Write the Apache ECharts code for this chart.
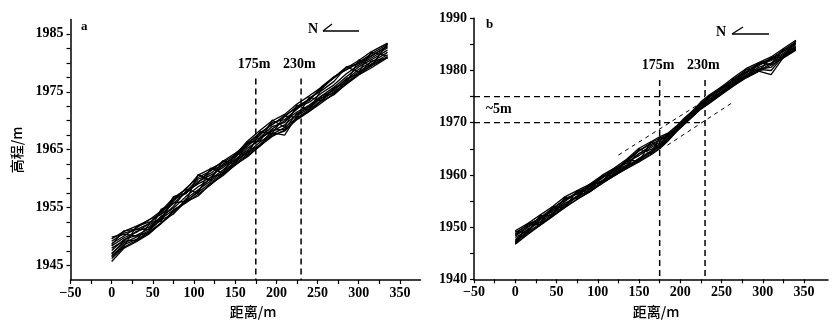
<!DOCTYPE html>
<html><head><meta charset="utf-8">
<script src="https://cdn.jsdelivr.net/npm/echarts@6/dist/echarts.min.js"></script>
<style>html,body{margin:0;padding:0;background:#fff}#c{width:834px;height:322px}</style>
</head><body><div id="c"></div>
<script>
// ---------- Panel a data ----------
const aDist = [0,15,30,45,60,75,90,105,120,135,150,165,180,195,210,225,240,255,270,285,300,315,335];
const aProfile1 = [1949.6,1950.9,1951.8,1952.8,1954.4,1956.7,1958.1,1960.6,1961.7,1962.8,1964.1,1966.5,1968.3,1970.0,1971.1,1972.9,1974.3,1975.8,1977.4,1979.1,1980.4,1981.9,1983.4];
const aProfile2 = [1949.2,1950.6,1951.2,1952.2,1954.3,1956.1,1958.3,1960.2,1961.3,1963.0,1964.4,1966.0,1967.8,1969.4,1970.7,1972.5,1973.7,1975.6,1977.6,1978.8,1980.1,1981.5,1983.2];
const aProfile3 = [1948.8,1950.1,1951.5,1952.9,1953.8,1955.7,1957.7,1959.9,1960.9,1962.5,1963.8,1965.6,1967.5,1969.7,1970.2,1972.0,1973.9,1975.2,1976.8,1979.3,1979.8,1981.1,1983.0];
const aProfile4 = [1948.4,1949.8,1950.7,1952.2,1954.0,1956.4,1957.4,1959.5,1960.6,1961.9,1963.6,1965.9,1967.1,1969.0,1969.7,1972.2,1973.2,1974.8,1976.2,1978.1,1979.6,1980.8,1982.6];
const aProfile5 = [1948.0,1949.3,1950.9,1951.6,1953.3,1955.2,1957.8,1959.1,1960.2,1962.3,1963.2,1965.3,1966.7,1968.6,1970.0,1971.5,1972.7,1974.3,1975.8,1977.6,1979.3,1980.5,1982.2];
const aProfile6 = [1947.6,1949.5,1950.2,1951.3,1953.5,1954.9,1956.9,1958.6,1959.9,1961.5,1963.3,1964.9,1967.0,1968.2,1969.3,1971.1,1972.5,1973.9,1975.5,1977.1,1978.9,1980.1,1981.8];
const aProfile7 = [1947.1,1948.9,1949.9,1951.0,1952.9,1953.9,1956.5,1958.1,1959.6,1961.2,1962.9,1964.5,1966.3,1967.9,1967.5,1970.9,1972.1,1974.0,1974.8,1976.9,1978.5,1979.8,1981.4];
const aProfile8 = [1946.7,1948.6,1949.5,1950.8,1952.4,1954.3,1956.2,1957.6,1959.3,1960.9,1962.6,1964.2,1965.9,1967.7,1968.8,1970.5,1971.9,1973.6,1975.0,1976.6,1978.2,1979.6,1981.1];
const aProfile9 = [1946.2,1948.2,1949.3,1950.6,1952.2,1954.5,1955.8,1957.3,1958.9,1960.7,1962.3,1964.0,1965.6,1967.5,1968.2,1970.3,1971.7,1973.4,1974.5,1976.4,1978.0,1979.4,1981.0];
const aProfile10 = [1945.7,1948.0,1949.1,1950.4,1952.3,1954.0,1956.0,1957.0,1959.1,1960.5,1962.4,1963.8,1965.7,1967.3,1968.4,1970.2,1971.6,1973.1,1974.7,1976.3,1977.9,1979.1,1980.9];
const aProfile11 = [1949.9,1950.4,1950.1,1950.7,1954.7,1955.8,1956.1,1960.7,1959.7,1963.1,1962.5,1966.3,1966.4,1970.1,1968.9,1972.7,1971.8,1975.5,1977.5,1979.3,1978.4,1981.8,1981.2];
const aProfile12 = [1946.5,1948.4,1951.7,1952.5,1952.6,1956.5,1958.2,1957.5,1961.8,1961.0,1964.3,1964.1,1968.1,1967.8,1970.8,1970.6,1974.1,1973.4,1975.7,1976.5,1980.5,1979.4,1983.3];
const aProfile13 = [1948.6,1951.0,1951.3,1951.2,1953.0,1956.9,1957.5,1959.3,1961.5,1962.2,1963.9,1966.2,1967.9,1969.3,1970.9,1972.3,1973.5,1975.9,1977.6,1978.8,1980.0,1981.2,1982.8];
const aProfile14 = [1947.0,1949.2,1949.4,1952.0,1953.1,1954.6,1955.9,1957.9,1960.2,1960.8,1963.0,1964.7,1965.7,1968.4,1968.5,1971.3,1972.3,1974.3,1975.2,1977.3,1978.1,1980.3,1980.8];
const aGuideX = [175, 230];
const aGuideTop = 1977.3;
const aGuideLabelY = 1979.8;

// ---------- Panel b data ----------
const bDist = [0,15,30,45,60,75,90,105,120,135,150,165,175,185,195,205,215,225,235,250,265,280,295,310,325,340];
const bProfile1 = [1949.3,1950.7,1952.3,1953.9,1955.8,1957.0,1958.2,1959.9,1961.3,1963.0,1965.1,1966.4,1967.3,1968.0,1969.3,1970.9,1972.3,1974.0,1975.3,1976.9,1978.7,1980.4,1981.5,1982.6,1984.2,1985.8];
const bProfile2 = [1949.0,1950.3,1951.8,1953.6,1955.1,1956.7,1957.9,1959.7,1961.0,1962.6,1964.6,1966.2,1967.0,1967.8,1969.1,1970.7,1972.2,1973.7,1975.1,1976.6,1978.4,1980.1,1981.3,1982.2,1983.9,1985.5];
const bProfile3 = [1948.7,1950.6,1951.5,1953.2,1955.5,1956.3,1958.1,1959.3,1961.2,1962.2,1964.1,1965.6,1966.7,1967.6,1969.0,1970.4,1972.0,1973.5,1974.8,1976.8,1978.1,1979.8,1980.9,1982.4,1983.6,1985.3];
const bProfile4 = [1948.3,1949.9,1951.9,1952.9,1954.9,1956.6,1957.5,1959.5,1960.5,1962.5,1963.7,1965.3,1966.2,1967.4,1968.8,1970.3,1971.8,1973.4,1974.5,1976.3,1977.9,1979.5,1981.1,1981.9,1983.3,1985.0];
const bProfile5 = [1948.0,1949.4,1951.4,1953.3,1954.3,1956.0,1957.8,1958.9,1960.8,1961.9,1964.1,1964.9,1965.9,1967.2,1968.7,1970.2,1971.6,1973.2,1974.3,1976.0,1977.7,1979.2,1980.6,1981.4,1983.1,1984.7];
const bProfile6 = [1947.6,1949.6,1950.9,1952.6,1954.6,1955.7,1957.2,1958.7,1960.3,1961.6,1963.2,1964.6,1965.7,1967.0,1968.6,1970.0,1971.5,1973.0,1974.1,1975.8,1977.5,1979.0,1980.3,1980.6,1982.9,1984.5];
const bProfile7 = [1947.2,1949.1,1950.6,1952.3,1954.0,1955.8,1956.9,1958.5,1960.0,1961.5,1962.9,1964.4,1965.4,1966.8,1968.4,1969.9,1971.3,1972.8,1973.9,1975.6,1977.3,1978.9,1980.0,1981.3,1982.7,1984.2];
const bProfile8 = [1946.9,1948.8,1950.4,1952.1,1953.7,1955.4,1956.7,1958.4,1959.8,1961.3,1962.7,1964.0,1965.1,1966.6,1968.3,1969.8,1971.2,1972.7,1973.8,1975.5,1977.2,1978.7,1979.9,1979.2,1982.5,1984.0];
const bProfile9 = [1946.7,1948.6,1950.3,1952.0,1953.8,1955.3,1956.8,1958.3,1959.9,1961.2,1962.5,1963.9,1965.0,1966.5,1968.2,1969.7,1971.2,1972.6,1973.7,1975.4,1977.1,1978.6,1979.8,1981.0,1982.4,1983.9];
const bProfile10 = [1949.2,1948.9,1952.2,1952.2,1955.7,1955.5,1958.2,1958.5,1961.2,1961.4,1965.0,1964.1,1967.2,1966.7,1969.2,1969.9,1972.2,1972.8,1975.1,1975.6,1978.5,1978.8,1981.4,1981.2,1984.1,1984.1];
const bProfile11 = [1946.8,1950.6,1950.5,1953.9,1953.8,1957.0,1956.8,1959.8,1959.9,1962.9,1962.6,1966.4,1965.1,1967.9,1968.3,1970.8,1971.3,1973.9,1973.8,1976.9,1977.2,1980.3,1979.9,1982.5,1982.5,1985.7];
const bProfile12 = [1948.5,1950.1,1951.0,1953.5,1955.3,1956.4,1957.3,1959.6,1960.7,1962.8,1964.7,1965.9,1966.6,1967.5,1969.0,1970.5,1972.1,1973.6,1975.0,1976.5,1978.3,1979.7,1981.3,1982.1,1983.8,1985.2];
const bProfile13 = [1947.4,1949.2,1951.6,1952.6,1954.1,1955.9,1957.9,1958.7,1960.2,1961.8,1963.0,1964.3,1965.5,1967.1,1968.5,1970.1,1971.4,1973.0,1974.0,1975.9,1977.4,1979.1,1980.2,1980.0,1982.8,1984.4];
const bGuideX = [175, 230];
const bGuideTop = 1978.2;
const bGuideLabelY = 1980.9;
const bLevels = [1975, 1970];
const bLevelNote = '~5m';
const bTrendUpper = [[125, 1963.8], [234, 1974.7]];
const bTrendLower = [[184.5, 1965.7], [264.6, 1974.0]];

// ---------- Tick labels ----------
const xTickLabels = [-50, 0, 50, 100, 150, 200, 250, 300, 350];
const xTicks = [-50,-25,0,25,50,75,100,125,150,175,200,225,250,275,300,325,350];
const aYTickLabels = [1945, 1955, 1965, 1975, 1985];
const aYTicks = [1945,1947.5,1950,1952.5,1955,1957.5,1960,1962.5,1965,1967.5,1970,1972.5,1975,1977.5,1980,1982.5,1985];
const bYTickLabels = [1940, 1950, 1960, 1970, 1980, 1990];
const bYTicks = [1940,1945,1950,1955,1960,1965,1970,1975,1980,1985,1990];

const aProfiles = [aProfile1,aProfile2,aProfile3,aProfile4,aProfile5,aProfile6,aProfile7,aProfile8,aProfile9,aProfile10,aProfile11,aProfile12,aProfile13,aProfile14];
const bProfiles = [bProfile1,bProfile2,bProfile3,bProfile4,bProfile5,bProfile6,bProfile7,bProfile8,bProfile9,bProfile10,bProfile11,bProfile12,bProfile13];

const SERIF = '"Liberation Serif","DejaVu Serif",serif';
const CJK = '"Noto Sans CJK SC","Liberation Serif",serif';

function xAxisCfg(gridIndex, max) {
  return {
    type: 'value', gridIndex, min: -50, max,
    axisLine: {show: true, onZero: false, lineStyle: {color: '#000', width: 1.5}},
    axisTick: {show: true, customValues: xTicks, length: 4, lineStyle: {color: '#000', width: 1.2}},
    axisLabel: {customValues: xTickLabels, color: '#000', fontFamily: SERIF, fontWeight: 'bold', fontSize: 14, margin: 6,
      formatter: v => String(v).replace('-', '\u2212')},
    splitLine: {show: false}
  };
}
function yAxisCfg(gridIndex, min, max, labels, ticks) {
  return {
    type: 'value', gridIndex, min, max,
    axisLine: {show: true, onZero: false, lineStyle: {color: '#000', width: 1.5}},
    axisTick: {show: true, customValues: ticks, length: 4, lineStyle: {color: '#000', width: 1.2}},
    axisLabel: {customValues: labels, color: '#000', fontFamily: SERIF, fontWeight: 'bold', fontSize: 14, margin: 7,
      formatter: v => String(v)},
    splitLine: {show: false}
  };
}

const series = [];
aProfiles.forEach(p => series.push({
  type: 'line', xAxisIndex: 0, yAxisIndex: 0, showSymbol: false, symbol: 'none', silent: true,
  lineStyle: {color: '#000', width: 1.3}, data: aDist.map((d, i) => [d, p[i]])
}));
bProfiles.forEach(p => series.push({
  type: 'line', xAxisIndex: 1, yAxisIndex: 1, showSymbol: false, symbol: 'none', silent: true,
  lineStyle: {color: '#000', width: 1.3}, data: bDist.map((d, i) => [d, p[i]])
}));
const dashStyle = {color: '#000', width: 1.5, type: [6, 4]};
aGuideX.forEach(g => series.push({
  type: 'line', xAxisIndex: 0, yAxisIndex: 0, symbol: 'none', silent: true,
  lineStyle: dashStyle, data: [[g, aGuideTop], [g, 1942.5]]
}));
bGuideX.forEach(g => series.push({
  type: 'line', xAxisIndex: 1, yAxisIndex: 1, symbol: 'none', silent: true,
  lineStyle: dashStyle, data: [[g, bGuideTop], [g, 1940]]
}));
bLevels.forEach(l => series.push({
  type: 'line', xAxisIndex: 1, yAxisIndex: 1, symbol: 'none', silent: true,
  lineStyle: {color: '#000', width: 1.3, type: [6, 4]}, data: [[-50, l], [bGuideX[1], l]]
}));
[bTrendUpper, bTrendLower].forEach(t => series.push({
  type: 'line', xAxisIndex: 1, yAxisIndex: 1, symbol: 'none', silent: true,
  lineStyle: {color: '#000', width: 1, type: [4, 4]}, data: t
}));

const arrow = (nx, ny, x1, x2, y, hx, hy) => [
  {type: 'text', left: nx, top: ny, style: {text: 'N', fill: '#000', font: 'bold 14px ' + SERIF}},
  {type: 'line', shape: {x1, y1: y, x2, y2: y}, style: {stroke: '#000', lineWidth: 1.5}},
  {type: 'line', shape: {x1, y1: y, x2: hx, y2: hy}, style: {stroke: '#000', lineWidth: 1.3}}
];

const option = {
  animation: false,
  backgroundColor: '#fff',
  grid: [
    {left: 70.5, top: 19.4, width: 350, height: 260.6},
    {left: 474, top: 18.3, width: 354, height: 261}
  ],
  xAxis: [xAxisCfg(0, 375), xAxisCfg(1, 379)],
  yAxis: [yAxisCfg(0, 1942.5, 1987.5, aYTickLabels, aYTicks), yAxisCfg(1, 1940, 1990, bYTickLabels, bYTicks)],
  series,
  graphic: [
    {type: 'text', left: 81, top: 20, style: {text: 'a', fill: '#000', font: 'bold 13px ' + SERIF}},
    {type: 'text', left: 486, top: 18, style: {text: 'b', fill: '#000', font: 'bold 13px ' + SERIF}},
    ...arrow(308, 22, 323, 359, 31, 332, 24),
    ...arrow(716, 25, 732, 769, 34, 743, 27),
    {type: 'text', x: 253, y: 312, style: {text: '距离/m', fill: '#000', font: '500 14px ' + CJK, align: 'center', verticalAlign: 'middle'}},
    {type: 'text', x: 656, y: 312, style: {text: '距离/m', fill: '#000', font: '500 14px ' + CJK, align: 'center', verticalAlign: 'middle'}},
    {type: 'text', x: 17, y: 150, rotation: Math.PI / 2, style: {text: '高程/m', fill: '#000', font: '500 14px ' + CJK, align: 'center', verticalAlign: 'middle'}}
  ]
};
const chart = echarts.init(document.getElementById('c'), null, {renderer: 'canvas'});
chart.setOption(option);

// annotation texts positioned through the chart's own scales
const notes = [];
const addNote = (grid, x, y, text) => {
  const p = chart.convertToPixel({gridIndex: grid}, [x, y]);
  notes.push({type: 'text', x: p[0], y: p[1], style: {text, fill: '#000', font: 'bold 14px ' + SERIF, align: 'center', verticalAlign: 'middle'}});
};
aGuideX.forEach(g => addNote(0, g - 2, aGuideLabelY, g + 'm'));
bGuideX.forEach(g => addNote(1, g - 2, bGuideLabelY, g + 'm'));
addNote(1, -20, (bLevels[0] + bLevels[1]) / 2, bLevelNote);
chart.setOption({graphic: option.graphic.concat(notes)});
</script></body></html>
